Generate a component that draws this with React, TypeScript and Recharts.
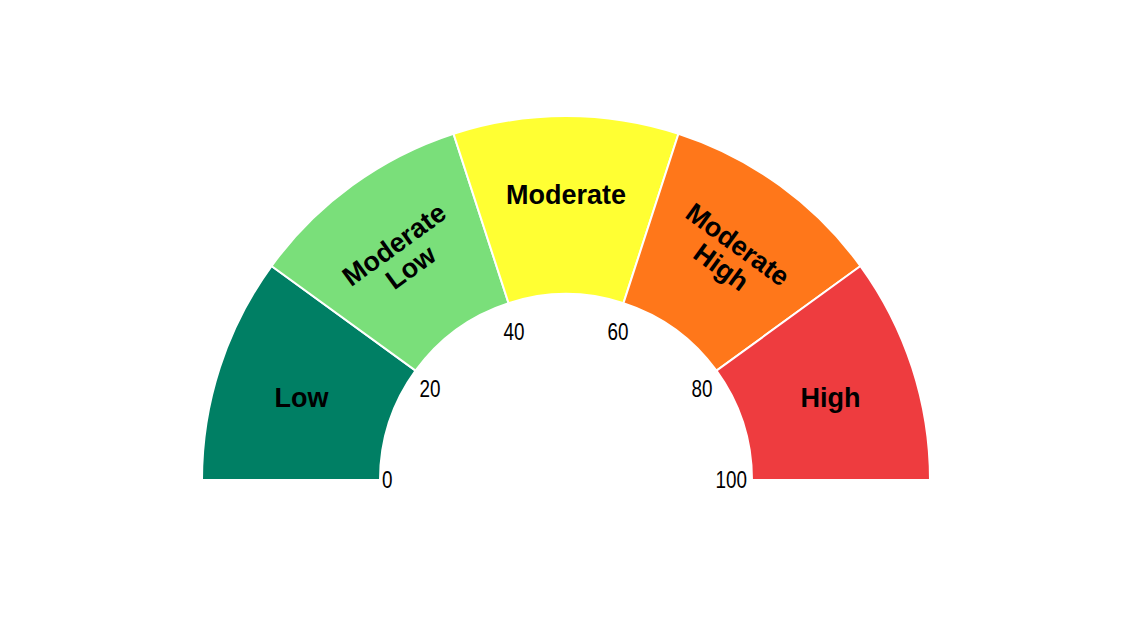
import React from "react";
import { Cell, Pie, PieChart } from "recharts";

const bandNames = ["Low", "Moderate Low", "Moderate", "Moderate High", "High"];
const bandValues = [20, 20, 20, 20, 20];
const bandColors = ["#007F64", "#7ADF7A", "#FFFF33", "#FF771A", "#EE3C3F"];
const bandLines = [["Low"], ["Moderate", "Low"], ["Moderate"], ["Moderate", "High"], ["High"]];
const tickLabels = ["0", "20", "40", "60", "80", "100"];

const data = bandNames.map((name, i) => ({ name, value: bandValues[i] }));

const RAD = Math.PI / 180;
const NARROW = 0.82;

const renderTick = (cx: number, cy: number, inner: number, angle: number, text: string) => {
  const c = Math.cos(angle * RAD);
  const s = Math.sin(angle * RAD);
  let x = cx + 168 * c;
  let y = cy - 156 * s;
  let anchor: "start" | "middle" | "end" = "middle";
  if (c < -0.95) {
    anchor = "start";
    x = cx + (inner - 2) * c;
    y = cy;
  } else if (c > 0.95) {
    anchor = "end";
    x = cx + (inner - 5) * c;
    y = cy;
  }
  return (
    <text
      key={`tick-${text}`}
      x={x}
      y={y}
      textAnchor={anchor}
      dominantBaseline="central"
      transform={`translate(${x} 0) scale(${NARROW} 1) translate(${-x} 0)`}
      fontFamily="'Liberation Sans', Arial, sans-serif"
      fontSize={23}
      fill="#000"
    >
      {text}
    </text>
  );
};

const renderLabel = (props: any) => {
  const { cx, cy, midAngle, innerRadius, startAngle, endAngle, index } = props;
  const lines = bandLines[index];
  const horizontal = index === 0 || index === bandLines.length - 1;
  const r = horizontal ? 278 : lines.length > 1 ? 278 : 286;
  const x = cx + r * Math.cos(midAngle * RAD);
  const y = cy - r * Math.sin(midAngle * RAD) + (horizontal ? 4 : 1);
  const rot = horizontal ? 0 : 90 - midAngle;
  const lh = 28;
  return (
    <g key={`label-${index}`}>
      <text
        x={x}
        y={y}
        textAnchor="middle"
        dominantBaseline="central"
        transform={`rotate(${rot} ${x} ${y})`}
        fontFamily="'Liberation Sans', Arial, sans-serif"
        fontWeight="bold"
        fontSize={27}
        fill="#000"
      >
        {lines.map((ln, i) => (
          <tspan key={i} x={x} dy={i === 0 ? (-(lines.length - 1) * lh) / 2 : lh}>
            {ln}
          </tspan>
        ))}
      </text>
      {renderTick(cx, cy, innerRadius, startAngle, tickLabels[index])}
      {index === bandLines.length - 1 &&
        renderTick(cx, cy, innerRadius, endAngle, tickLabels[index + 1])}
    </g>
  );
};

export default function App() {
  return (
    <div style={{ position: "absolute", left: 0, top: 0, background: "#fff" }}>
      <PieChart width={1131} height={635} margin={{ top: 0, right: 0, bottom: 0, left: 0 }}>
        <Pie
          data={data}
          dataKey="value"
          nameKey="name"
          cx={566}
          cy={480}
          startAngle={180}
          endAngle={0}
          innerRadius={186}
          outerRadius={364}
          stroke="#fff"
          strokeWidth={2}
          labelLine={false}
          label={renderLabel}
          isAnimationActive={false}
        >
          {data.map((entry, i) => (
            <Cell key={`cell-${i}`} fill={bandColors[i]} />
          ))}
        </Pie>
      </PieChart>
    </div>
  );
}
